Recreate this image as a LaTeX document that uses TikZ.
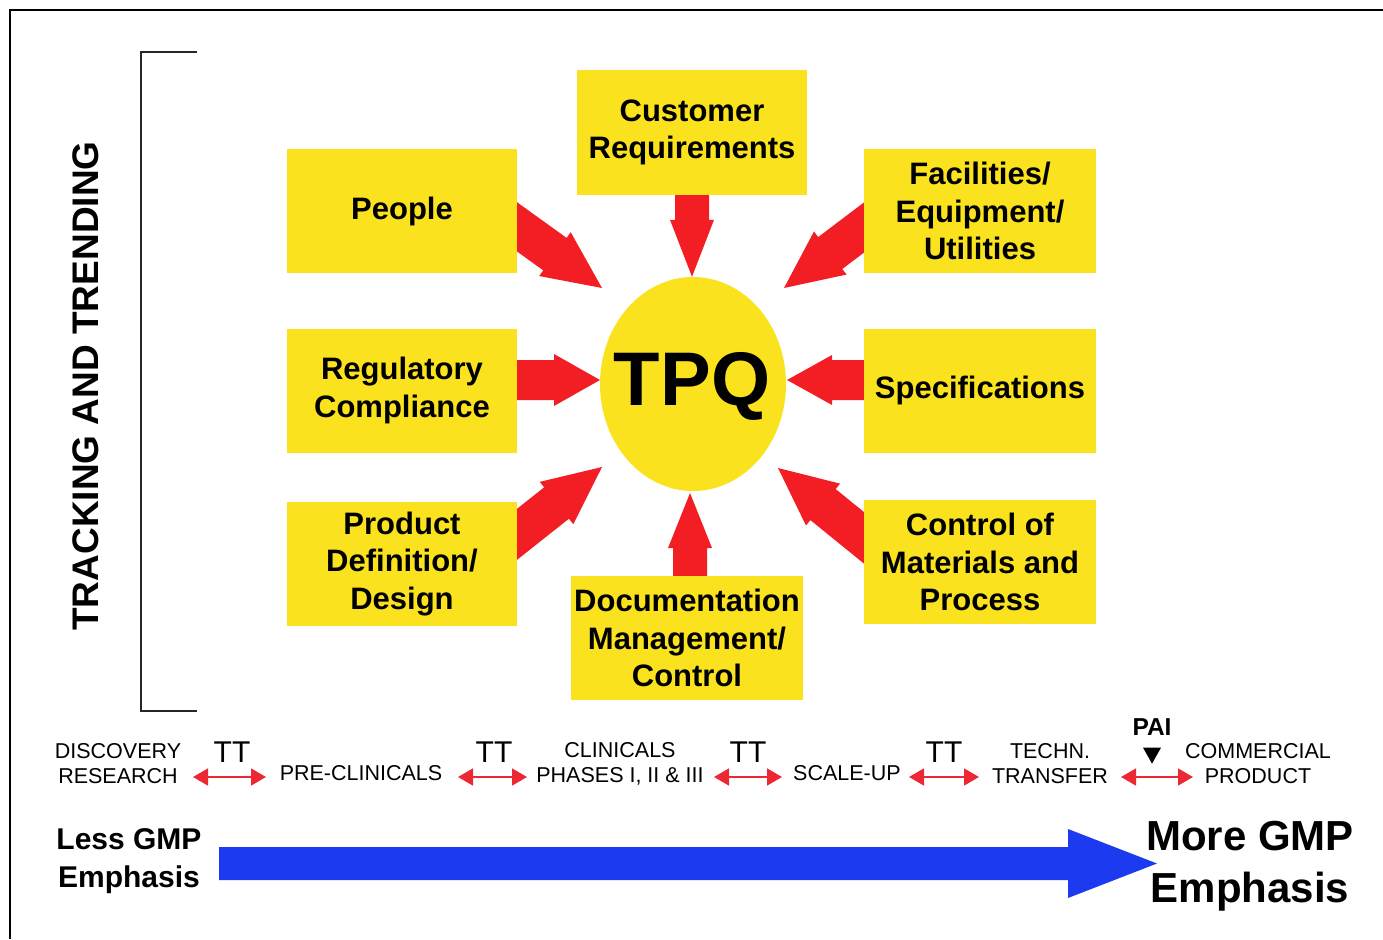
\documentclass[tikz,border=0pt]{standalone}
\usepackage{fontspec}
\setmainfont{Liberation Sans}
\usetikzlibrary{calc,arrows.meta,backgrounds,shapes.geometric}

\definecolor{boxyellow}{RGB}{250,226,30}
\definecolor{arrowred}{RGB}{242,30,36}
\definecolor{gmpblue}{RGB}{28,58,240}
\definecolor{ttred}{RGB}{236,40,52}

% filled block arrow: #1 colour, #2 start, #3 tip, #4 half shaft, #5 half head, #6 head length
\newcommand\blockarrow[6]{%
  \coordinate (ba-base) at ($(#3)!#6!(#2)$);
  \fill[#1] ($(#2)!#4!90:(#3)$) -- ($(ba-base)!#4!90:(#3)$) -- ($(ba-base)!#5!90:(#3)$)
    -- (#3) -- ($(ba-base)!#5!-90:(#3)$) -- ($(ba-base)!#4!-90:(#3)$) -- ($(#2)!#4!-90:(#3)$) -- cycle;
}

\begin{document}
\begin{tikzpicture}[x=1pt,y=-1pt,
  box/.style={fill=boxyellow, minimum width=230pt, minimum height=124pt, inner sep=0pt,
    align=center, font=\bfseries\fontsize{31}{37.5}\selectfont},
  phase/.style={align=center, inner sep=0pt, font=\fontsize{21.5}{25}\selectfont},
  ttlabel/.style={inner sep=0pt, font=\fontsize{30}{30}\selectfont},
  ttarrow/.style={ttred, line width=1.6pt,
    {Triangle[length=15pt,width=17pt]}-{Triangle[length=15pt,width=17pt]}},
  lessgmp/.style={align=center, inner sep=0pt, font=\bfseries\fontsize{30}{38}\selectfont},
  moregmp/.style={align=center, inner sep=0pt, font=\bfseries\fontsize{42}{52}\selectfont}
]
\useasboundingbox (0,0) rectangle (1383,939);

% frame
\draw[line width=1.5pt] (10,939) -- (10,10) -- (1383,10);

% tracking and trending bracket
\draw[line width=2.6pt, black!85] (197,52) -- (141,52) -- (141,711) -- (197,711);
\node[rotate=90, inner sep=0pt, font=\bfseries\fontsize{37}{37}\selectfont] (track) at (86,386) {TRACKING AND TRENDING};

% centre
\node[ellipse, fill=boxyellow, minimum width=186pt, minimum height=214pt, inner sep=0pt] (tpq) at (693,384) {};
\node[inner sep=0pt, font=\bfseries\fontsize{76}{76}\selectfont] (tpqtext) at (692,386) {TPQ};

% surrounding boxes
\node[box] (people) at (402,211) {People};
\node[box] (customer) at (692,132.5) {Customer\\Requirements};
\node[box, minimum width=232pt] (facilities) at (980,211) {Facilities/\\Equipment/\\Utilities};
\node[box] (regulatory) at (402,390.5) {Regulatory\\Compliance};
\node[box, minimum width=232pt] (specs) at (980,390.5) {Specifications};
\node[box] (product) at (402,564) {Product\\Definition/\\Design};
\node[box, minimum width=232pt] (docs) at (687,638) {Documentation\\Management/\\Control};
\node[box, minimum width=232pt] (control) at (980,562) {Control of\\Materials and\\Process};

% red block arrows into TPQ
\begin{pgfonlayer}{background}
  \coordinate (s-reg) at (regulatory.east |- 0,380);
  \coordinate (t-reg) at (600,380);
  \coordinate (s-spec) at (specs.west |- 0,380);
  \coordinate (t-spec) at (787,380);
  \coordinate (s-cust) at (customer.south);
  \coordinate (t-cust) at (customer.south |- tpq.north);
  \coordinate (s-docs) at (docs.north -| 690,0);
  \coordinate (t-docs) at (690,493);
  \coordinate (s-people) at ($(people.east)+(-25,-2)$);
  \coordinate (t-people) at ($(tpq.center)+(-91,-96)$);
  \coordinate (s-fac) at ($(facilities.west)+(26,-3)$);
  \coordinate (t-fac) at ($(tpq.center)+(91,-96)$);
  \coordinate (s-prod) at ($(product.east)+(-25,-10)$);
  \coordinate (t-prod) at ($(tpq.center)+(-91,83)$);
  \coordinate (s-ctrl) at ($(control.west)+(25,-4)$);
  \coordinate (t-ctrl) at ($(tpq.center)+(85,84)$);
  \blockarrow{arrowred}{s-cust}{t-cust}{17pt}{22pt}{57pt}
  \blockarrow{arrowred}{s-docs}{t-docs}{17pt}{22pt}{55pt}
  \blockarrow{arrowred}{s-reg}{t-reg}{20pt}{26pt}{46pt}
  \blockarrow{arrowred}{s-spec}{t-spec}{20pt}{25pt}{45pt}
  \blockarrow{arrowred}{s-people}{t-people}{20pt}{27pt}{58pt}
  \blockarrow{arrowred}{s-fac}{t-fac}{20pt}{27pt}{58pt}
  \blockarrow{arrowred}{s-prod}{t-prod}{20pt}{27pt}{58pt}
  \blockarrow{arrowred}{s-ctrl}{t-ctrl}{20pt}{27pt}{58pt}
\end{pgfonlayer}

% development phases
\node[phase] (disc) at (118,763.5) {DISCOVERY\\RESEARCH};
\node[phase] (precl) at (361,773) {PRE-CLINICALS};
\node[phase] (clin) at (620,764) {CLINICALS\\PHASES I, II \& III};
\node[phase] (scale) at (847,773.5) {SCALE-UP};
\node[phase] (techn) at (1050,763.5) {TECHN.\\TRANSFER};
\node[phase] (comm) at (1258,763.5) {COMMERCIAL\\PRODUCT};

% transfer arrows between phases
\coordinate (a1l) at (193,777); \coordinate (a1r) at (266,777);
\coordinate (a2l) at (458,777); \coordinate (a2r) at (527,777);
\coordinate (a3l) at (714,777); \coordinate (a3r) at (782,777);
\coordinate (a4l) at (909,777); \coordinate (a4r) at (979,777);
\coordinate (a5l) at (1121,777); \coordinate (a5r) at (1193,777);
\draw[ttarrow] (a1l) -- (a1r);
\draw[ttarrow] (a2l) -- (a2r);
\draw[ttarrow] (a3l) -- (a3r);
\draw[ttarrow] (a4l) -- (a4r);
\draw[ttarrow] (a5l) -- (a5r);
\node[ttlabel] (tt1) at (232,752.5) {TT};
\node[ttlabel] (tt2) at (494,752.5) {TT};
\node[ttlabel] (tt3) at (748,752.5) {TT};
\node[ttlabel] (tt4) at (944,752.5) {TT};
\node[inner sep=0pt, font=\bfseries\fontsize{24.5}{24.5}\selectfont] (pai) at (1152,727) {PAI};
\fill ($(pai.south)+(-9,12)$) -- ($(pai.south)+(9,12)$) -- ($(pai.south)+(0,28)$) -- cycle;

% GMP emphasis
\node[lessgmp] (less) at (129,861) {Less GMP\\Emphasis};
\node[moregmp] (more) at (1250,866) {More GMP\\Emphasis};
\coordinate (gmp-start) at (219,863.5);
\coordinate (gmp-tip) at (1157,863.5);
\blockarrow{gmpblue}{gmp-start}{gmp-tip}{16.5pt}{34.5pt}{89pt}
\end{tikzpicture}
\end{document}
